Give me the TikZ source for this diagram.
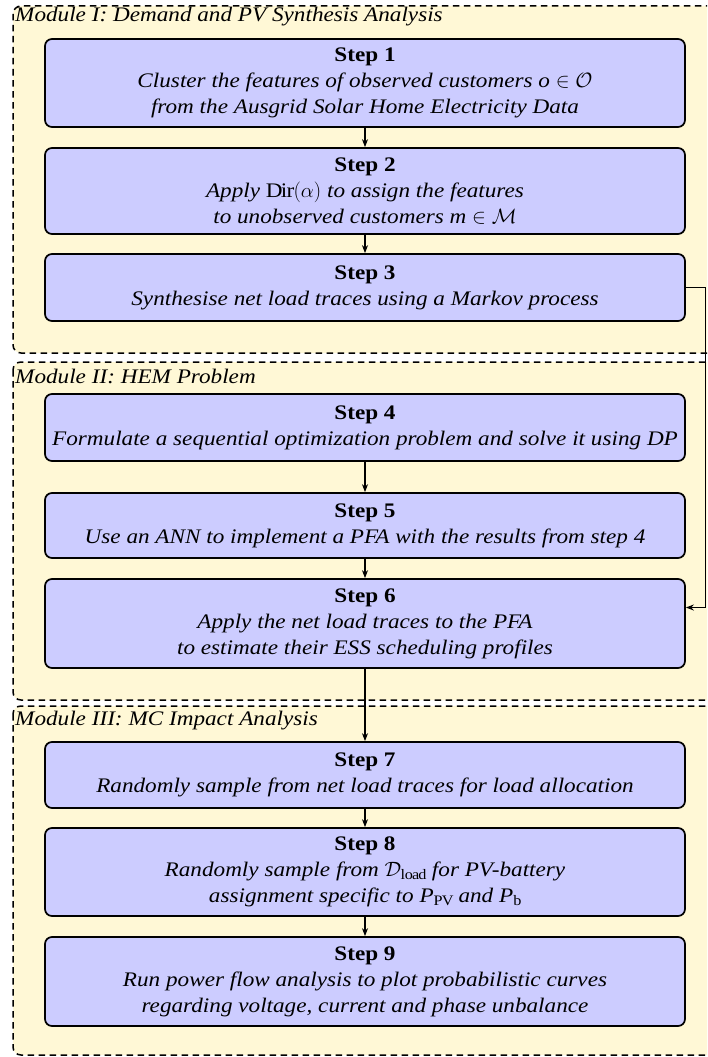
\documentclass[tikz,border=0pt]{standalone}
\usepackage{fontspec}
\setmainfont[FakeStretch=1.12]{Liberation Serif}
\usetikzlibrary{arrows.meta}
\definecolor{modfill}{HTML}{FFF8D6}
\definecolor{stepfill}{HTML}{CCCCFF}

\begin{document}
\begin{tikzpicture}[x=1pt,y=-1pt,
  every node/.style={font=\fontsize{20.7}{26}\selectfont},
  module/.style={draw=black, fill=modfill, dash pattern=on 6.5pt off 4.5pt,
    line width=1.5pt, rounded corners=8pt},
  stepbox/.style={draw=black, fill=stepfill, line width=1.7pt,
    rounded corners=7pt, minimum width=640pt, align=center, inner sep=0pt},
  modlabel/.style={anchor=base west, inner sep=0pt,
    font=\fontsize{20.7}{24}\selectfont\itshape},
  link/.style={line width=1.4pt, -{Stealth[length=8pt,width=6pt]}}
]
\useasboundingbox (0,0) rectangle (707,1057);
\clip (0,0) rectangle (707,1057);

% module frames (they run past the right edge)
\draw[module] (13,6) rectangle (740,353);
\draw[module] (13,362) rectangle (740,700);
\draw[module] (13,706) rectangle (740,1055);

\node[modlabel] (lab1) at (15,22) {Module I: Demand and PV Synthesis Analysis};
\node[modlabel] (lab2) at (15,383) {Module II: HEM Problem};
\node[modlabel] (lab3) at (15,725) {Module III: MC Impact Analysis};

% steps
\node[stepbox, minimum height=88pt] (s1) at (365,83)
  {\textbf{Step 1}\\
   \textit{Cluster the features of observed customers \textit{o}~$\in$~$\mathcal{O}$}\\
   \textit{from the Ausgrid Solar Home Electricity Data}};
\node[stepbox, minimum height=86pt] (s2) at (365,191)
  {\textbf{Step 2}\\
   \textit{Apply} $\mathrm{Dir}(\alpha)$ \textit{to assign the features}\\
   \textit{to unobserved customers \textit{m}~$\in$~$\mathcal{M}$}};
\node[stepbox, minimum height=67pt] (s3) at (365,287.5)
  {\textbf{Step 3}\\
   \textit{Synthesise net load traces using a Markov process}};
\node[stepbox, minimum height=67pt] (s4) at (365,427.5)
  {\textbf{Step 4}\\
   \textit{Formulate a sequential optimization problem and solve it using DP}};
\node[stepbox, minimum height=65pt] (s5) at (365,525.5)
  {\textbf{Step 5}\\
   \textit{Use an ANN to implement a PFA with the results from step 4}};
\node[stepbox, minimum height=89pt] (s6) at (365,623.5)
  {\textbf{Step 6}\\
   \textit{Apply the net load traces to the PFA}\\
   \textit{to estimate their ESS scheduling profiles}};
\node[stepbox, minimum height=66pt] (s7) at (365,775)
  {\textbf{Step 7}\\
   \textit{Randomly sample from net load traces for load allocation}};
\node[stepbox, minimum height=88pt] (s8) at (365,872)
  {\textbf{Step 8}\\
   \textit{Randomly sample from $\mathcal{D}_{\mathrm{load}}$ for PV-battery}\\
   \textit{assignment specific to $\textit{P}_{\mathrm{PV}}$ and $\textit{P}_{\mathrm{b}}$}};
\node[stepbox, minimum height=89pt] (s9) at (365,981.5)
  {\textbf{Step 9}\\
   \textit{Run power flow analysis to plot probabilistic curves}\\
   \textit{regarding voltage, current and phase unbalance}};

% connectors
\draw[link] (s1) -- (s2);
\draw[link] (s2) -- (s3);
\draw[link] (s4) -- (s5);
\draw[link] (s5) -- (s6);
\draw[link] (s6) -- (s7);
\draw[link] (s7) -- (s8);
\draw[link] (s8) -- (s9);

\coordinate (rail) at (705.5,0);
\coordinate (in6) at ([yshift=16pt]s6.east);
\draw[link] (s3.east) -- (s3.east -| rail) -- (in6 -| rail) -- (in6);
\end{tikzpicture}
\end{document}
